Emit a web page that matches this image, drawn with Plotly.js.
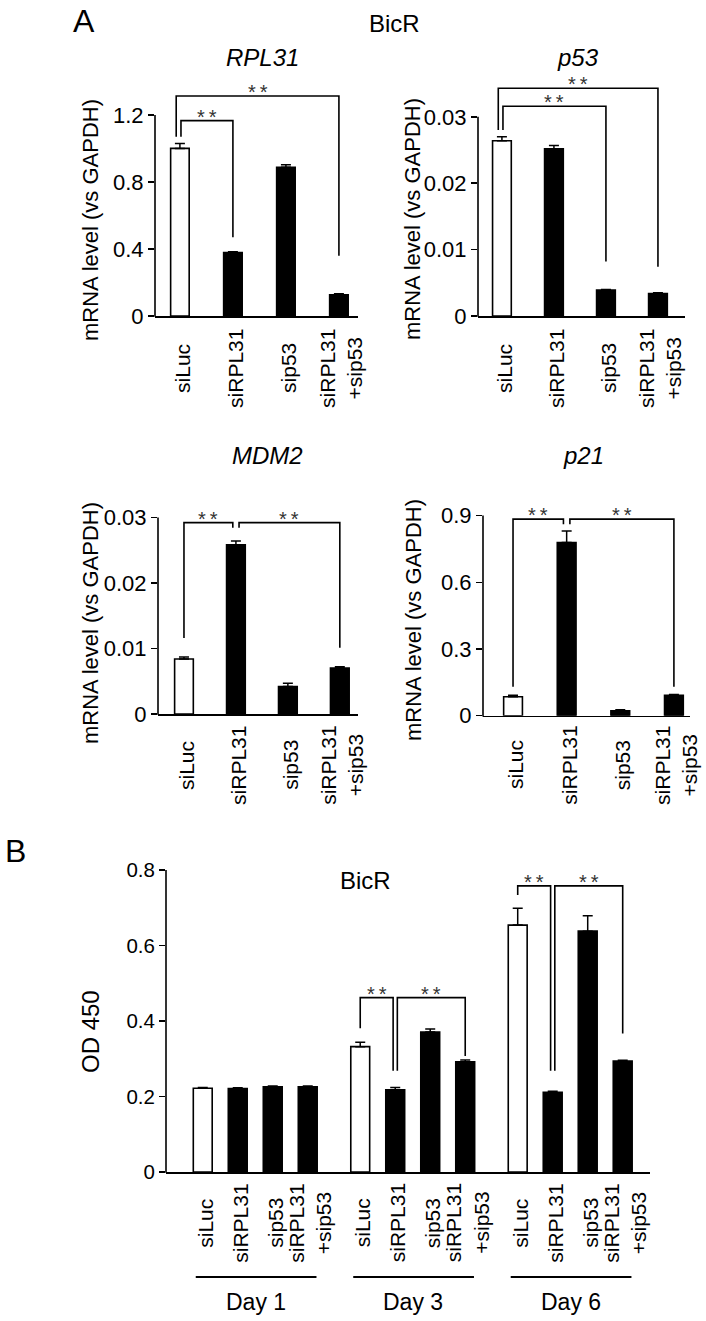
<!DOCTYPE html>
<html>
<head>
<meta charset="utf-8">
<script src="https://cdn.plot.ly/plotly-3.0.1.min.js"></script>
<style>
  html, body { margin: 0; padding: 0; background: #fff; }
  #chart { width: 706px; height: 1321px; }
</style>
</head>
<body>
<div id="chart"></div>
<script>
// categories
const treatments = ["siLuc", "siRPL31", "sip53", "siRPL31<br>+sip53"];
const days = ["Day 1", "Day 3", "Day 6"];

// panel A: mRNA level (vs GAPDH), mean and SD for each treatment
const rpl31Mean = [1.0, 0.378, 0.888, 0.127];
const rpl31Err = [0.03, 0.006, 0.015, 0.006];
const p53Mean = [0.0264, 0.0252, 0.0039, 0.0034];
const p53Err = [0.0006, 0.0005, 0.0001, 0.0001];
const mdm2Mean = [0.0084, 0.0258, 0.0042, 0.0070];
const mdm2Err = [0.0003, 0.0006, 0.0005, 0.0002];
const p21Mean = [0.0855, 0.779, 0.0225, 0.092];
const p21Err = [0.006, 0.052, 0.004, 0.003];

// panel B: OD 450, one row per day
const odMean = [
  [0.222, 0.221, 0.226, 0.226],
  [0.332, 0.218, 0.371, 0.292],
  [0.654, 0.211, 0.638, 0.294]
];
const odErr = [
  [0.002, 0.002, 0.002, 0.002],
  [0.012, 0.006, 0.008, 0.005],
  [0.045, 0.003, 0.041, 0.002]
];

// y tick labels
const rpl31Ticks = ["0", "0.4", "0.8", "1.2"];
const p53Ticks = ["0", "0.01", "0.02", "0.03"];
const mdm2Ticks = ["0", "0.01", "0.02", "0.03"];
const p21Ticks = ["0", "0.3", "0.6", "0.9"];
const odTicks = ["0", "0.2", "0.4", "0.6", "0.8"];

// significance brackets: [from bar, to bar, bracket level, left leg end, right leg end]
const rpl31Sig = [[0, 3, 1.313, 1.07, 0.36], [0, 1, 1.166, 1.07, 0.47]];
const p53Sig = [[0, 3, 0.0343, 0.028, 0.0074], [0, 2, 0.0316, 0.028, 0.0082]];
const mdm2Sig = [[0, 1, 0.0292, 0.0116, 0.0284], [1, 3, 0.0292, 0.0284, 0.0101]];
const p21Sig = [[0, 1, 0.884, 0.13, 0.861], [1, 3, 0.884, 0.861, 0.13]];
const odSig = [[4, 5, 0.462, 0.381, 0.268], [5, 7, 0.462, 0.268, 0.307],
               [8, 9, 0.758, 0.734, 0.268], [9, 11, 0.758, 0.268, 0.367]];

const W = 706, H = 1321;
const fx = px => px / W;
const fy = py => 1 - py / H;
const FONT = "Arial, 'Liberation Sans', sans-serif";
const groupStep = 4.5;

const idxA = treatments.map((t, i) => i);
const xB = [], labB = [], meanB = [], errB = [];
days.forEach((d, g) => treatments.forEach((t, i) => {
  xB.push(g * groupStep + i);
  labB.push(t);
  meanB.push(odMean[g][i]);
  errB.push(odErr[g][i]);
}));

// box: [left px, right px, zero px, top-of-range px]
const panels = [
  {title: "<i>RPL31</i>", x: idxA, labels: treatments, mean: rpl31Mean, err: rpl31Err, sig: rpl31Sig,
   ticks: rpl31Ticks, box: [155, 358, 316, 73], xr: [-0.47, 3.36], yr: [0, 1.45], barW: 0.35,
   titleAt: [262, 57], yTitle: "mRNA level (vs GAPDH)", yTitleAt: [90, 220], labelY: 368, tickSize: 22},
  {title: "<i>p53</i>", x: idxA, labels: treatments, mean: p53Mean, err: p53Err, sig: p53Sig,
   ticks: p53Ticks, box: [478, 685, 316, 77], xr: [-0.46, 3.52], yr: [0, 0.036], barW: 0.36,
   titleAt: [578, 57], yTitle: "mRNA level (vs GAPDH)", yTitleAt: [413, 219], labelY: 368, tickSize: 22},
  {title: "<i>MDM2</i>", x: idxA, labels: treatments, mean: mdm2Mean, err: mdm2Err, sig: mdm2Sig,
   ticks: mdm2Ticks, box: [158, 358, 714, 501], xr: [-0.5, 3.35], yr: [0, 0.0325], barW: 0.36,
   titleAt: [267, 455], yTitle: "mRNA level (vs GAPDH)", yTitleAt: [90, 623], labelY: 765, tickSize: 22},
  {title: "<i>p21</i>", x: idxA, labels: treatments, mean: p21Mean, err: p21Err, sig: p21Sig,
   ticks: p21Ticks, box: [483, 690, 715.7, 500], xr: [-0.56, 3.3], yr: [0, 0.97], barW: 0.35,
   titleAt: [583, 455], yTitle: "mRNA level (vs GAPDH)", yTitleAt: [413, 620], labelY: 765, tickSize: 22},
  {title: "BicR", x: xB, labels: labB, mean: meanB, err: errB, sig: odSig,
   ticks: odTicks, box: [166, 650, 1172, 870], xr: [-1.05, 12.78], yr: [0, 0.8], barW: 0.54,
   titleAt: [365, 880], yTitle: "OD 450", yTitleAt: [90, 1032], labelY: 1223, tickSize: 20.5}
];

const traces = [];
const shapes = [];
const annotations = [];
const layout = {
  width: W, height: H,
  margin: {l: 0, r: 0, t: 0, b: 0},
  paper_bgcolor: "white", plot_bgcolor: "white",
  showlegend: false,
  font: {family: FONT, color: "black"}
};

panels.forEach((p, k) => {
  const s = k === 0 ? "" : String(k + 1);
  const [l, r, zero, top] = p.box;
  layout["xaxis" + s] = {
    domain: [fx(l), fx(r)], range: p.xr, anchor: "y" + s,
    showline: true, linecolor: "black", linewidth: 1.6,
    showgrid: false, zeroline: false, ticks: "", showticklabels: false, fixedrange: true
  };
  const tv = p.ticks.map(Number);
  layout["yaxis" + s] = {
    domain: [fy(zero), fy(top)], range: p.yr, anchor: "x" + s,
    showline: false, showgrid: false, zeroline: false,
    tickmode: "array", tickvals: tv, ticktext: p.ticks,
    ticks: "outside", ticklen: 6, tickwidth: 1.5, tickcolor: "black",
    tickfont: {family: FONT, size: p.tickSize, color: "black"}, fixedrange: true
  };

  // y axis line stops at the top tick
  const topTick = tv[tv.length - 1];
  const lineTop = zero - (topTick / p.yr[1]) * (zero - top);
  shapes.push({type: "line", xref: "paper", yref: "paper",
    x0: fx(l), x1: fx(l), y0: fy(zero + 0.8), y1: fy(lineTop),
    line: {color: "black", width: 1.6}});

  traces.push({
    type: "bar", x: p.x, y: p.mean, xaxis: "x" + s, yaxis: "y" + s,
    width: p.barW,
    marker: {color: p.labels.map(t => t === "siLuc" ? "white" : "black"),
             line: {color: "black", width: 1.6}},
    error_y: {type: "data", symmetric: false, array: p.err, arrayminus: p.err.map(() => 0),
              color: "black", thickness: 1.5, width: 5},
    hoverinfo: "skip"
  });

  // treatment labels under the bars, rotated and centred
  p.x.forEach((xv, i) => {
    annotations.push({x: xv, xref: "x" + s, y: fy(p.labelY), yref: "paper",
      text: p.labels[i], textangle: -90, showarrow: false, xanchor: "center", yanchor: "middle",
      xshift: 2, align: "center", font: {family: FONT, size: 21, color: "black"}});
  });

  // significance brackets
  p.sig.forEach((b, j) => {
    const [from, to, lev, yl, yr] = b;
    let xl = p.x[from], xr = p.x[to];
    p.sig.forEach((o, m) => {
      if (m === j) return;
      if (o[1] === from) xl += 0.06;
      if (o[0] === to) xr -= 0.06;
      if (o[0] === from) xl += (lev > o[2] ? -0.07 : 0.02);
    });
    shapes.push({type: "path", xref: "x" + s, yref: "y" + s,
      path: `M${xl},${yl} L${xl},${lev} L${xr},${lev} L${xr},${yr}`,
      line: {color: "black", width: 1.6}});
    annotations.push({x: (xl + xr) / 2, xref: "x" + s, y: lev, yref: "y" + s,
      text: "*\u2009*", showarrow: false, yanchor: "bottom", yshift: -9,
      font: {family: FONT, size: 20, color: "#333"}});
  });

  annotations.push({x: fx(p.titleAt[0]), y: fy(p.titleAt[1]), xref: "paper", yref: "paper",
    text: p.title, showarrow: false, xanchor: "center", yanchor: "middle",
    font: {family: FONT, size: 24, color: "black"}});
  annotations.push({x: fx(p.yTitleAt[0]), y: fy(p.yTitleAt[1]), xref: "paper", yref: "paper",
    text: p.yTitle, textangle: -90, showarrow: false, xanchor: "center", yanchor: "middle",
    font: {family: FONT, size: k === 4 ? 24 : 22, color: "black"}});
});

// day groups under panel B
days.forEach((d, g) => {
  const x0 = g * groupStep;
  shapes.push({type: "line", xref: "x5", yref: "paper", x0: x0 - 0.2, x1: x0 + 3.25,
    y0: fy(1277), y1: fy(1277), line: {color: "black", width: 2}});
  annotations.push({x: x0 + 1.52, xref: "x5", y: fy(1302), yref: "paper", text: d,
    showarrow: false, xanchor: "center", yanchor: "middle",
    font: {family: FONT, size: 23, color: "black"}});
});

// figure letters and cell line label
annotations.push({x: fx(84), y: fy(21), xref: "paper", yref: "paper", text: "A", showarrow: false,
  xanchor: "center", yanchor: "middle", font: {family: FONT, size: 32, color: "black"}});
annotations.push({x: fx(15), y: fy(851), xref: "paper", yref: "paper", text: "B", showarrow: false,
  xanchor: "center", yanchor: "middle", font: {family: FONT, size: 32, color: "black"}});
annotations.push({x: fx(394), y: fy(23), xref: "paper", yref: "paper", text: "BicR", showarrow: false,
  xanchor: "center", yanchor: "middle", font: {family: FONT, size: 24, color: "black"}});

layout.shapes = shapes;
layout.annotations = annotations;

Plotly.newPlot("chart", traces, layout, {displayModeBar: false, staticPlot: true});
</script>
</body>
</html>
